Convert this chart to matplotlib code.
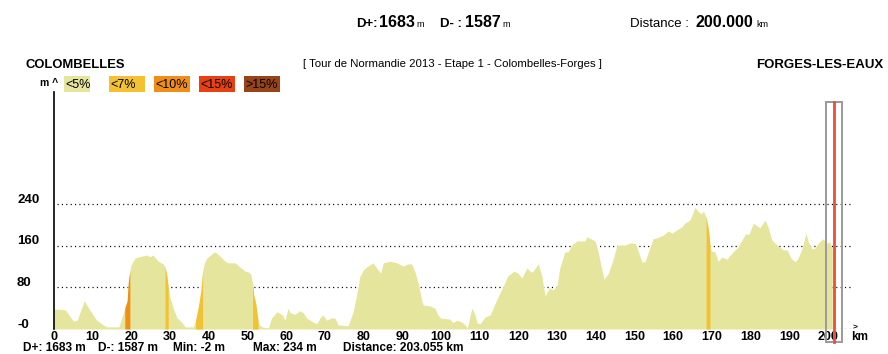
import matplotlib
matplotlib.use('Agg')
import matplotlib.pyplot as plt
import matplotlib.transforms as mtransforms
from matplotlib.patches import Rectangle
import numpy as np

plt.rcParams['font.family'] = ['Liberation Sans', 'DejaVu Sans']

# ---------------- data ----------------
km = [0, 2, 3, 5, 6, 7.8, 9.3, 11, 12.7, 13.7, 16.8, 17.5, 18.3, 18.9, 19.2, 19.6,
      19.9, 20.9, 21.7, 24, 24.8, 25.6, 26.9, 28.2, 28.7, 29.2, 29.5, 30, 30.8, 31.8,
      33, 33.9, 36, 36.6, 37.3, 38, 38.4, 38.8, 39.5, 40.1, 41.1, 41.6, 42.9, 44.2,
      45, 46.8, 48, 49.4, 50.4, 50.9, 51.3, 51.6, 52.1, 52.4, 52.7, 53.1, 53.7, 55.4,
      56.2, 57.6, 58.9, 59.7, 60.5, 61, 62.3, 63.5, 64.4, 65.3, 67, 67.9, 68.7, 69.5,
      70.4, 71.7, 72.6, 73.4, 76, 77.3, 78.2, 79, 79.9, 80.8, 82.4, 83.4, 84.4, 85.1,
      86.8, 88.6, 90.2, 91.5, 92.4, 93.3, 94.1, 95.1, 95.4, 97.2, 98.4, 99.2, 99.9,
      102.3, 103.1, 104.1, 105.4, 106.2, 106.8, 107.5, 108, 108.8, 109.3, 110.1,
      111.4, 112.7, 114.4, 116, 117.3, 118.9, 119.9, 120.9, 122.2, 123.3, 123.8,
      125.1, 126, 126.9, 128, 129, 130, 130.7, 132, 132.8, 133.8, 135.1, 137.2,
      137.7, 139.8, 140.6, 141.3, 142.1, 143.2, 144.4, 145.5, 147.5, 148.8, 150.1,
      150.6, 151.9, 152.7, 153.5, 154.8, 155.8, 157.4, 158.7, 159.7, 160.9, 162.2,
      163, 164.3, 165.1, 165.6, 166.4, 167.2, 167.8, 168.5, 168.8, 169.1, 169.3,
      169.5, 169.8, 170.8, 171.6, 172.6, 173.9, 175.2, 176.7, 177.8, 178.6, 179.6,
      180.7, 182.4, 183.7, 184.5, 185.5, 186.8, 188.4, 189.4, 190.4, 191.5, 192.3,
      193.3, 194.3, 194.9, 195.9, 196.6, 197.5, 198.7, 199.7, 200.5, 201.1]
elev = [38, 38, 36, 15, 17, 54, 36, 17, 8, 4, 4, 21, 40, 54, 90, 111,
        123, 136, 138, 142, 139, 142, 130, 125, 119, 100, 81, 60, 40, 21,
        13, 4, 4, 17, 42, 75, 111, 125, 136, 140, 146, 148, 140, 130,
        127, 127, 119, 111, 109, 104, 88, 65, 50, 33, 17, 8, 4, 2,
        21, 33, 28, 17, 40, 31, 28, 35, 31, 21, 13, 10, 21, 27,
        17, 21, 21, 8, 6, 33, 65, 100, 113, 119, 127, 117, 107, 127,
        130, 127, 121, 125, 125, 109, 88, 52, 46, 44, 40, 27, 21,
        19, 12, 17, 13, 8, 2, 25, 40, 27, 12, 10,
        23, 27, 56, 81, 102, 111, 107, 98, 117, 109, 111,
        125, 104, 63, 79, 75, 84, 117, 148, 148, 161, 169, 169,
        177, 169, 148, 123, 96, 106, 132, 161, 161, 165, 165,
        157, 129, 129, 146, 173, 175, 180, 188, 184, 190, 196,
        203, 209, 223, 234, 226, 221, 226, 215, 203, 190, 177,
        160, 150, 148, 130, 138, 134, 146, 157, 171, 182, 182,
        203, 194, 209, 196, 171, 161, 152, 152, 136, 129, 136,
        155, 184, 167, 154, 155, 165, 173, 165, 167, 154]

steep_start = [18.3, 28.7, 36.6, 51.3, 168.5]
steep_end = [19.6, 29.5, 38.4, 52.7, 169.5]
steep_class = ['<10%', '<7%', '<7%', '<7%', '<7%']

legend_labels = ['<5%', '<7%', '<10%', '<15%', '>15%']
legend_colors = ['#e5e59e', '#f2c232', '#f18e16', '#e8410f', '#974518']

y_ticks = [0, 80, 160, 240]
y_tick_labels = ['-0', '80', '160', '240']
x_ticks = list(range(0, 201, 10))

finish_km = 201.5

start_name = 'COLOMBELLES'
end_name = 'FORGES-LES-EAUX'
title = '[ Tour de Normandie 2013 - Etape 1 - Colombelles-Forges ]'
stats = ['D+: 1683 m', 'D-: 1587 m', 'Min: -2 m', 'Max: 234 m', 'Distance: 203.055 km']

# ---------------- figure ----------------
W, H = 888, 354
fig = plt.figure(figsize=(W / 100, H / 100), dpi=100)
fig.patch.set_facecolor('white')


def fx(px):
    return px / W


def fy(py):
    return 1 - py / H


px_per_km = 3.87
px_per_m = 0.521
ax_left, ax_right, ax_bottom, ax_top = 54, 860, 329, 92
ax = fig.add_axes([fx(ax_left), fy(ax_bottom), (ax_right - ax_left) / W, (ax_bottom - ax_top) / H])
ax.set_xlim(0, (ax_right - ax_left) / px_per_km)
ax.set_ylim(0, (ax_bottom - ax_top) / px_per_m)
for s in ax.spines.values():
    s.set_visible(False)
ax.set_facecolor('none')

km_a = np.array(km)
el_a = np.array(elev)
color_of = dict(zip(legend_labels, legend_colors))

# dotted grid lines
for yv in y_ticks:
    ax.plot([0.8, 206.5], [yv, yv], color='black', lw=0.9, linestyle=(0, (0.9, 2.6)), zorder=1)

# profile
ax.fill_between(km_a, el_a, 0, color=legend_colors[0], lw=0, zorder=2)
for s0, s1, c in zip(steep_start, steep_end, steep_class):
    m = (km_a >= s0 - 1e-9) & (km_a <= s1 + 1e-9)
    ax.fill_between(km_a, el_a, 0, where=m, color=color_of[c], lw=0, zorder=3)

# left axis line
ax.plot([0, 0], [0, ax.get_ylim()[1]], color='black', lw=1.2, zorder=5, clip_on=False)

# finish marker
ax.add_patch(Rectangle((199.5, -25), 4.1, 461, fill=False, edgecolor='#9a9a9a', lw=1.4,
                       clip_on=False, zorder=6))
ax.plot([finish_km, finish_km], [-25, 436], color='#e8503a', lw=2.0, clip_on=False, zorder=7)

# x ticks
ax.set_xticks(x_ticks)
ax.set_xticklabels([str(v) for v in x_ticks], fontsize=9, fontweight='bold')
ax.tick_params(axis='x', length=0, pad=1.2)
ax.set_yticks([])

# y tick labels
trans = mtransforms.blended_transform_factory(fig.transFigure, ax.transData)
for yv, lab in zip(y_ticks, y_tick_labels):
    ax.text(fx(17), yv + 8, lab, transform=trans, fontsize=9.5, fontweight='bold',
            ha='left', va='center')

# km label
fig.text(fx(853), fy(328), '>', fontsize=6, fontweight='bold', ha='left', va='center')
fig.text(fx(851), fy(337), 'km', fontsize=8.5, fontweight='bold', ha='left', va='center')
fig.text(fx(40), fy(83), 'm ^', fontsize=7.5, fontweight='bold', ha='left', va='center')

# header
fig.text(fx(356), fy(27), 'D+:', fontsize=9.5, fontweight='bold', ha='left', va='baseline')
fig.text(fx(379), fy(27), '1683', fontsize=11.5, fontweight='bold', ha='left', va='baseline')
fig.text(fx(416), fy(27), 'm', fontsize=6.5, ha='left', va='baseline')
fig.text(fx(440), fy(27), 'D- :', fontsize=9.5, fontweight='bold', ha='left', va='baseline')
fig.text(fx(465), fy(27), '1587', fontsize=11.5, fontweight='bold', ha='left', va='baseline')
fig.text(fx(502), fy(27), 'm', fontsize=6.5, ha='left', va='baseline')
fig.text(fx(630), fy(27), 'Distance :', fontsize=9.5, ha='left', va='baseline')
fig.text(fx(695), fy(27), '200.000', fontsize=11.5, fontweight='bold', ha='left', va='baseline')
fig.text(fx(756), fy(27), 'km', fontsize=6.5, ha='left', va='baseline')

fig.text(fx(25), fy(68), start_name, fontsize=9.4, fontweight='bold', ha='left', va='baseline')
fig.text(fx(883), fy(68), end_name, fontsize=9.5, fontweight='bold', ha='right', va='baseline')
fig.text(fx(452), fy(67), title, fontsize=8.2, ha='center', va='baseline')

# legend boxes
box_x = [64, 109, 154, 199, 244]
box_w = [26, 36, 36, 36, 36]
for bx, bw, lab, col in zip(box_x, box_w, legend_labels, legend_colors):
    fig.patches.append(Rectangle((fx(bx), fy(92)), bw / W, 16 / H, transform=fig.transFigure,
                                 facecolor=col, edgecolor='none'))
    fig.text(fx(bx + 1.5), fy(84.5), lab, fontsize=9, ha='left', va='center', color='black')

# bottom stats
stat_x = [23, 98, 173, 253, 343]
for sx, st in zip(stat_x, stats):
    fig.text(fx(sx), fy(351), st, fontsize=8.6, fontweight='bold', ha='left', va='baseline')

fig.savefig('out.png', dpi=100, facecolor='white')
